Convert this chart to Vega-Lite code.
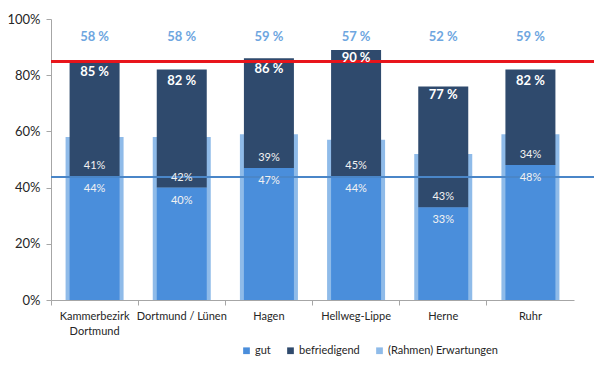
{
  "$schema": "https://vega.github.io/schema/vega-lite/v6.json",
  "width": 543,
  "height": 281,
  "autosize": {"type": "none"},
  "padding": {"left": 51, "top": 19, "right": 6, "bottom": 69},
  "background": "white",
  "config": {
    "view": {"stroke": null},
    "font": "Lato",
    "axis": {"labelFont": "Lato", "grid": false},
    "legend": {"labelFont": "Lato"}
  },
  "data": {
    "values": [
      {"region": "Kammerbezirk Dortmund", "gut": 44, "befriedigend": 41, "rahmen": 58, "total": 85},
      {"region": "Dortmund / Lünen", "gut": 40, "befriedigend": 42, "rahmen": 58, "total": 82},
      {"region": "Hagen", "gut": 47, "befriedigend": 39, "rahmen": 59, "total": 86},
      {"region": "Hellweg-Lippe", "gut": 44, "befriedigend": 45, "rahmen": 57, "total": 90},
      {"region": "Herne", "gut": 33, "befriedigend": 43, "rahmen": 52, "total": 77},
      {"region": "Ruhr", "gut": 48, "befriedigend": 34, "rahmen": 59, "total": 82}
    ]
  },
  "layer": [
    {
      "mark": {"type": "bar", "width": 58},
      "encoding": {
        "x": {
          "field": "region", "type": "nominal", "sort": null,
          "scale": {"range": [0, 523], "paddingInner": 0, "paddingOuter": 0},
          "axis": {
            "title": null, "labelAngle": 0, "bandPosition": 0,
            "domainColor": "#a6a6a6", "tickColor": "#a6a6a6", "tickSize": 5,
            "labelFontSize": 11, "labelColor": "#262626", "labelPadding": 5,
            "labelBaseline": "top", "labelLineHeight": 15,
            "labelExpr": "datum.value == 'Kammerbezirk Dortmund' ? ['Kammerbezirk', 'Dortmund'] : datum.value"
          }
        },
        "y": {
          "field": "rahmen", "type": "quantitative",
          "scale": {"domain": [0, 100], "nice": false},
          "axis": {
            "title": null, "values": [0, 20, 40, 60, 80, 100],
            "labelExpr": "datum.value + '%'",
            "domainColor": "#a6a6a6", "tickColor": "#a6a6a6", "tickSize": 5,
            "labelFontSize": 13, "labelColor": "#262626", "labelPadding": 6
          }
        },
        "color": {
          "datum": "(Rahmen) Erwartungen",
          "title": null,
          "scale": {
            "domain": ["gut", "befriedigend", "(Rahmen) Erwartungen"],
            "range": ["#4a8edb", "#2f4a6d", "#8fbbe9"]
          },
          "legend": {
            "title": null, "orient": "none", "direction": "horizontal",
            "legendX": 190, "legendY": 326,
            "symbolType": "square", "symbolSize": 45, "symbolStrokeWidth": 0,
            "labelFontSize": 11, "labelColor": "#262626",
            "columnPadding": 14, "symbolOffset": 0, "labelOffset": 3
          }
        }
      }
    },
    {
      "transform": [{"fold": ["gut", "befriedigend"], "as": ["key", "value"]}],
      "mark": {"type": "bar", "width": 50},
      "encoding": {
        "x": {"field": "region", "type": "nominal", "sort": null},
        "y": {"field": "value", "type": "quantitative", "stack": "zero"},
        "color": {"field": "key", "type": "nominal", "title": null},
        "order": {"field": "key", "sort": "descending"}
      }
    },
    {
      "mark": {"type": "rule", "color": "#4a86c8", "strokeWidth": 2},
      "encoding": {"y": {"datum": 43.8}}
    },
    {
      "mark": {"type": "rule", "color": "#e8151b", "strokeWidth": 2.5},
      "encoding": {"y": {"datum": 85}}
    },
    {
      "transform": [{"calculate": "format(datum.rahmen, 'd') + ' %'", "as": "rlab"}],
      "mark": {"type": "text", "fontWeight": "bold", "fontSize": 13, "color": "#6ea6e0", "baseline": "middle"},
      "encoding": {
        "x": {"field": "region", "type": "nominal", "sort": null},
        "y": {"datum": 93.5},
        "text": {"field": "rlab"}
      }
    },
    {
      "transform": [{"calculate": "format(datum.total, 'd') + ' %'", "as": "tlab"}],
      "mark": {"type": "text", "fontWeight": "bold", "fontSize": 13, "color": "white", "baseline": "middle", "dy": 11},
      "encoding": {
        "x": {"field": "region", "type": "nominal", "sort": null},
        "y": {"field": "total", "type": "quantitative"},
        "text": {"field": "tlab"}
      }
    },
    {
      "transform": [{"calculate": "format(datum.befriedigend, 'd') + '%'", "as": "blab"}],
      "mark": {"type": "text", "fontSize": 11, "color": "#f2f2f2", "baseline": "bottom", "dy": -5},
      "encoding": {
        "x": {"field": "region", "type": "nominal", "sort": null},
        "y": {"field": "gut", "type": "quantitative"},
        "text": {"field": "blab"}
      }
    },
    {
      "transform": [{"calculate": "format(datum.gut, 'd') + '%'", "as": "glab"}],
      "mark": {"type": "text", "fontSize": 11, "color": "#f2f2f2", "baseline": "top", "dy": 7},
      "encoding": {
        "x": {"field": "region", "type": "nominal", "sort": null},
        "y": {"field": "gut", "type": "quantitative"},
        "text": {"field": "glab"}
      }
    }
  ]
}
